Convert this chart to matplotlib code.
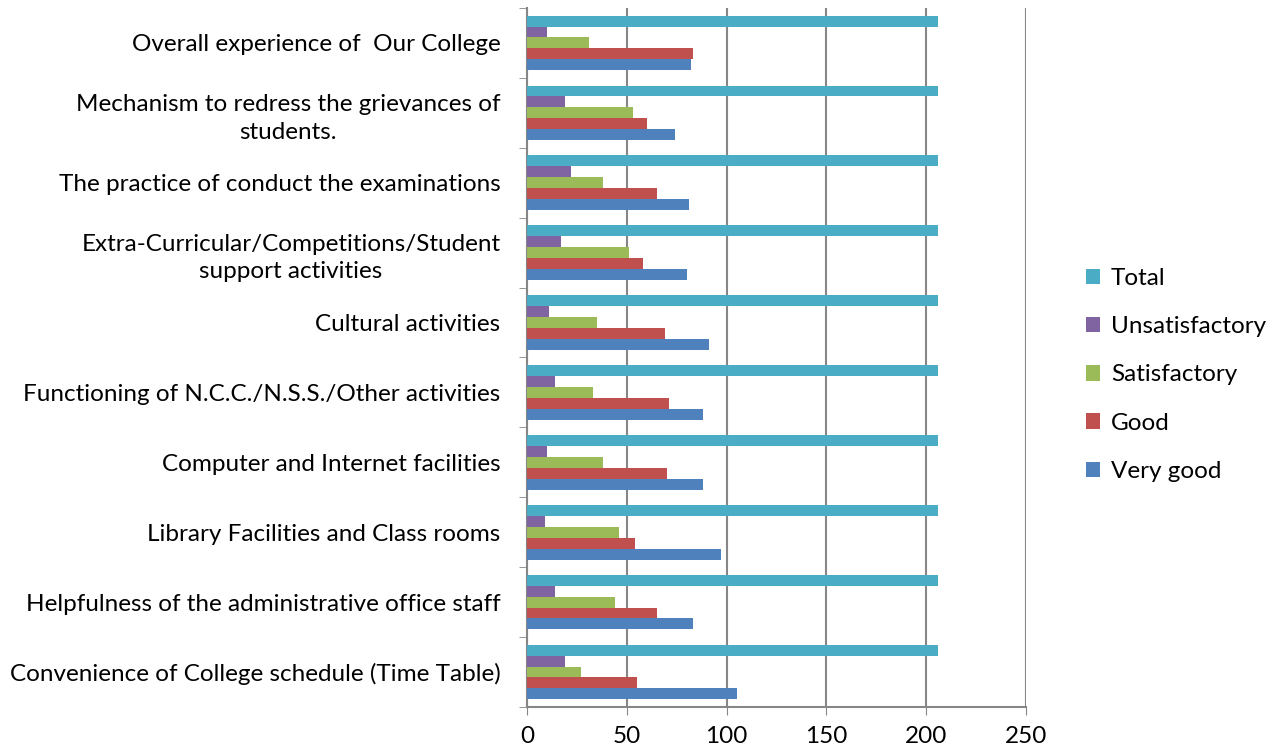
import numpy as np
import matplotlib.pyplot as plt

plt.rcParams['font.family'] = ['Lato', 'DejaVu Sans']

# categories, bottom to top as drawn
categories = [
    'Convenience of College schedule (Time Table)',
    'Helpfulness of the administrative office staff',
    'Library Facilities and Class rooms',
    'Computer and Internet facilities',
    'Functioning of N.C.C./N.S.S./Other activities',
    'Cultural activities',
    'Extra-Curricular/Competitions/Student\nsupport activities',
    'The practice of conduct the examinations',
    'Mechanism to redress the grievances of\nstudents.',
    'Overall experience of  Our College',
]

very_good = [105, 83, 97, 88, 88, 91, 80, 81, 74, 82]
good = [55, 65, 54, 70, 71, 69, 58, 65, 60, 83]
satisfactory = [27, 44, 46, 38, 33, 35, 51, 38, 53, 31]
unsatisfactory = [19, 14, 9, 10, 14, 11, 17, 22, 19, 10]
total = [206, 206, 206, 206, 206, 206, 206, 206, 206, 206]

series = [
    ('Very good', very_good, '#4F81BD'),
    ('Good', good, '#C0504D'),
    ('Satisfactory', satisfactory, '#9BBB59'),
    ('Unsatisfactory', unsatisfactory, '#8064A2'),
    ('Total', total, '#4BACC6'),
]

fig = plt.figure(figsize=(12.81, 7.53), dpi=100)
ax = fig.add_axes([0.4114, 0.0611, 0.3895, 0.9283])

y = np.arange(len(categories))
h = 0.156
for i, (name, vals, col) in enumerate(series):
    ax.barh(y - 2 * h + i * h, vals, height=h, color=col, label=name, zorder=3)

ax.set_xlim(0, 250)
ax.set_ylim(-0.5, len(categories) - 0.5)
ax.set_xticks(range(0, 251, 50))
ax.tick_params(axis='x', labelsize=17.5, length=6, color='#868686', pad=8)

ax.set_yticks(y)
ax.set_yticklabels(categories, fontsize=17.5, multialignment='center', linespacing=1.4)
ax.tick_params(axis='y', length=0, pad=19)
ax.set_yticks(np.arange(-0.5, len(categories), 1), minor=True)
ax.tick_params(axis='y', which='minor', length=6, color='#868686')

ax.grid(axis='x', color='#868686', linewidth=1.5, zorder=0)
for s in ['top', 'right']:
    ax.spines[s].set_visible(False)
for s in ['left', 'bottom']:
    ax.spines[s].set_color('#868686')
    ax.spines[s].set_linewidth(1.5)

handles, labels = ax.get_legend_handles_labels()
ax.legend(handles[::-1], labels[::-1], loc='center left', bbox_to_anchor=(1.095, 0.475),
          frameon=False, fontsize=17.5, handlelength=0.6, handleheight=0.6,
          labelspacing=1.12, handletextpad=0.45, borderpad=0)

fig.savefig('out.png', dpi=100)
